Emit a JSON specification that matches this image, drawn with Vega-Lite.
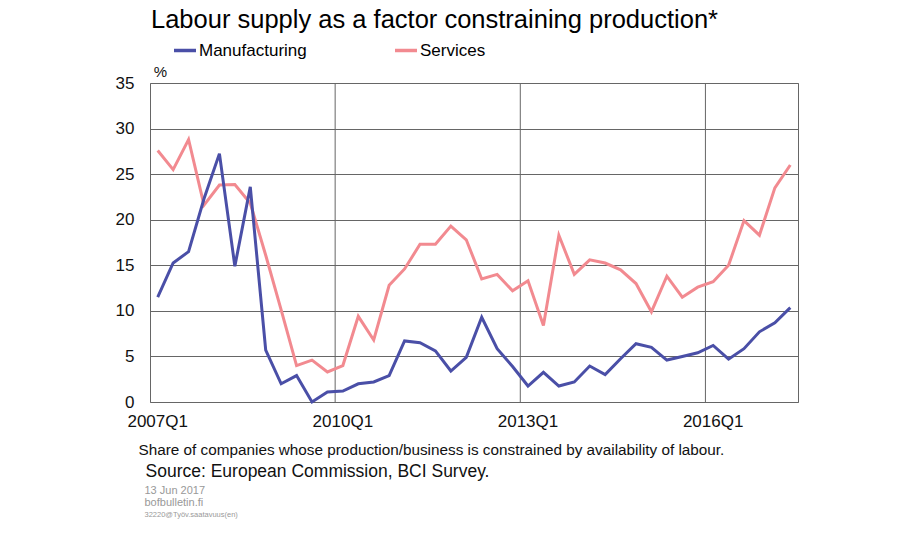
{
  "$schema": "https://vega.github.io/schema/vega-lite/v6.json",
  "width": 648,
  "height": 319,
  "autosize": {"type": "none"},
  "padding": {"left": 150, "top": 83, "right": 102, "bottom": 138},
  "background": "white",
  "config": {
    "font": "Liberation Sans",
    "view": {"stroke": "#666", "strokeWidth": 1}
  },
  "title": {
    "text": "Labour supply as a factor constraining production*",
    "fontSize": 25.5,
    "fontWeight": "normal",
    "color": "#000",
    "anchor": "start",
    "frame": "group",
    "offset": 4.5,
    "dx": 1
  },
  "data": {
    "values": [
      {"q": "2007Q1", "series": "Manufacturing", "v": 11.5}, {"q": "2007Q1", "series": "Services", "v": 27.6},
      {"q": "2007Q2", "series": "Manufacturing", "v": 15.25}, {"q": "2007Q2", "series": "Services", "v": 25.5},
      {"q": "2007Q3", "series": "Manufacturing", "v": 16.5}, {"q": "2007Q3", "series": "Services", "v": 28.8},
      {"q": "2007Q4", "series": "Manufacturing", "v": 22.3}, {"q": "2007Q4", "series": "Services", "v": 21.6},
      {"q": "2008Q1", "series": "Manufacturing", "v": 27.25}, {"q": "2008Q1", "series": "Services", "v": 23.8},
      {"q": "2008Q2", "series": "Manufacturing", "v": 14.9}, {"q": "2008Q2", "series": "Services", "v": 23.85},
      {"q": "2008Q3", "series": "Manufacturing", "v": 23.6}, {"q": "2008Q3", "series": "Services", "v": 21.8},
      {"q": "2008Q4", "series": "Manufacturing", "v": 5.7}, {"q": "2008Q4", "series": "Services", "v": 16.1},
      {"q": "2009Q1", "series": "Manufacturing", "v": 2.0}, {"q": "2009Q1", "series": "Services", "v": 10.1},
      {"q": "2009Q2", "series": "Manufacturing", "v": 2.9}, {"q": "2009Q2", "series": "Services", "v": 4.0},
      {"q": "2009Q3", "series": "Manufacturing", "v": 0.0}, {"q": "2009Q3", "series": "Services", "v": 4.6},
      {"q": "2009Q4", "series": "Manufacturing", "v": 1.1}, {"q": "2009Q4", "series": "Services", "v": 3.3},
      {"q": "2010Q1", "series": "Manufacturing", "v": 1.2}, {"q": "2010Q1", "series": "Services", "v": 4.0},
      {"q": "2010Q2", "series": "Manufacturing", "v": 2.0}, {"q": "2010Q2", "series": "Services", "v": 9.4},
      {"q": "2010Q3", "series": "Manufacturing", "v": 2.2}, {"q": "2010Q3", "series": "Services", "v": 6.8},
      {"q": "2010Q4", "series": "Manufacturing", "v": 2.9}, {"q": "2010Q4", "series": "Services", "v": 12.8},
      {"q": "2011Q1", "series": "Manufacturing", "v": 6.7}, {"q": "2011Q1", "series": "Services", "v": 14.6},
      {"q": "2011Q2", "series": "Manufacturing", "v": 6.5}, {"q": "2011Q2", "series": "Services", "v": 17.3},
      {"q": "2011Q3", "series": "Manufacturing", "v": 5.6}, {"q": "2011Q3", "series": "Services", "v": 17.3},
      {"q": "2011Q4", "series": "Manufacturing", "v": 3.4}, {"q": "2011Q4", "series": "Services", "v": 19.3},
      {"q": "2012Q1", "series": "Manufacturing", "v": 4.9}, {"q": "2012Q1", "series": "Services", "v": 17.8},
      {"q": "2012Q2", "series": "Manufacturing", "v": 9.3}, {"q": "2012Q2", "series": "Services", "v": 13.5},
      {"q": "2012Q3", "series": "Manufacturing", "v": 5.85}, {"q": "2012Q3", "series": "Services", "v": 14.0},
      {"q": "2012Q4", "series": "Manufacturing", "v": 3.9}, {"q": "2012Q4", "series": "Services", "v": 12.2},
      {"q": "2013Q1", "series": "Manufacturing", "v": 1.75}, {"q": "2013Q1", "series": "Services", "v": 13.3},
      {"q": "2013Q2", "series": "Manufacturing", "v": 3.25}, {"q": "2013Q2", "series": "Services", "v": 8.4},
      {"q": "2013Q3", "series": "Manufacturing", "v": 1.75}, {"q": "2013Q3", "series": "Services", "v": 18.3},
      {"q": "2013Q4", "series": "Manufacturing", "v": 2.2}, {"q": "2013Q4", "series": "Services", "v": 14.0},
      {"q": "2014Q1", "series": "Manufacturing", "v": 3.95}, {"q": "2014Q1", "series": "Services", "v": 15.6},
      {"q": "2014Q2", "series": "Manufacturing", "v": 3.0}, {"q": "2014Q2", "series": "Services", "v": 15.25},
      {"q": "2014Q3", "series": "Manufacturing", "v": 4.75}, {"q": "2014Q3", "series": "Services", "v": 14.5},
      {"q": "2014Q4", "series": "Manufacturing", "v": 6.4}, {"q": "2014Q4", "series": "Services", "v": 13.0},
      {"q": "2015Q1", "series": "Manufacturing", "v": 6.0}, {"q": "2015Q1", "series": "Services", "v": 9.9},
      {"q": "2015Q2", "series": "Manufacturing", "v": 4.6}, {"q": "2015Q2", "series": "Services", "v": 13.8},
      {"q": "2015Q3", "series": "Manufacturing", "v": 5.0}, {"q": "2015Q3", "series": "Services", "v": 11.5},
      {"q": "2015Q4", "series": "Manufacturing", "v": 5.4}, {"q": "2015Q4", "series": "Services", "v": 12.6},
      {"q": "2016Q1", "series": "Manufacturing", "v": 6.2}, {"q": "2016Q1", "series": "Services", "v": 13.2},
      {"q": "2016Q2", "series": "Manufacturing", "v": 4.7}, {"q": "2016Q2", "series": "Services", "v": 15.0},
      {"q": "2016Q3", "series": "Manufacturing", "v": 5.85}, {"q": "2016Q3", "series": "Services", "v": 19.9},
      {"q": "2016Q4", "series": "Manufacturing", "v": 7.7}, {"q": "2016Q4", "series": "Services", "v": 18.3},
      {"q": "2017Q1", "series": "Manufacturing", "v": 8.7}, {"q": "2017Q1", "series": "Services", "v": 23.5},
      {"q": "2017Q2", "series": "Manufacturing", "v": 10.35}, {"q": "2017Q2", "series": "Services", "v": 26.0}
    ]
  },
  "resolve": {"axis": {"x": "independent"}},
  "layer": [
    {
      "transform": [
        {"filter": "datum.series === 'Manufacturing'"},
        {"filter": {"field": "q", "oneOf": ["2010Q1"]}}
      ],
      "mark": {"type": "rule", "color": "#666", "strokeWidth": 1},
      "encoding": {
        "x": {
          "field": "q",
          "type": "ordinal",
          "bandPosition": 0,
          "scale": {"type": "band", "paddingInner": 0, "paddingOuter": 0},
          "axis": {
            "orient": "bottom",
            "values": ["2007Q1", "2010Q1", "2013Q1", "2016Q1"],
            "labelAngle": 0,
            "labelFontSize": 17,
            "labelColor": "#111",
            "labelPadding": 11,
            "ticks": false,
            "domain": false,
            "grid": false,
            "title": "Share of companies whose production/business is constrained by availability of labour.",
            "titleFontSize": 15.3,
            "titleFontWeight": "normal",
            "titleColor": "#111",
            "titleAnchor": "start",
            "titleAlign": "left",
            "titleBaseline": "alphabetic",
            "titleX": -12,
            "titleY": 52
          }
        }
      }
    },
    {
      "transform": [
        {"filter": "datum.series === 'Manufacturing'"},
        {"filter": {"field": "q", "oneOf": ["2013Q1", "2016Q1"]}}
      ],
      "mark": {"type": "rule", "color": "#666", "strokeWidth": 1},
      "encoding": {
        "x": {
          "field": "q",
          "type": "ordinal",
          "bandPosition": 0,
          "axis": {
            "orient": "bottom",
            "labels": false,
            "ticks": false,
            "domain": false,
            "grid": false,
            "title": "32220@Työv.saatavuus(en)",
            "titleFontSize": 7.5,
            "titleFontWeight": "normal",
            "titleColor": "#999",
            "titleAnchor": "start",
            "titleAlign": "left",
            "titleBaseline": "alphabetic",
            "titleX": -6,
            "titleY": 114
          }
        }
      }
    },
    {
      "transform": [{"filter": "datum.series === 'Services'"}],
      "mark": {"type": "line", "strokeWidth": 3},
      "encoding": {
        "x": {
          "field": "q",
          "type": "ordinal",
          "axis": {
            "orient": "bottom",
            "labels": false,
            "ticks": false,
            "domain": false,
            "grid": false,
            "title": "Source: European Commission, BCI Survey.",
            "titleFontSize": 17.5,
            "titleFontWeight": "normal",
            "titleColor": "#111",
            "titleAnchor": "start",
            "titleAlign": "left",
            "titleBaseline": "alphabetic",
            "titleX": -5,
            "titleY": 74
          }
        },
        "y": {
          "field": "v",
          "type": "quantitative",
          "scale": {"domain": [0, 35], "nice": false},
          "axis": {
            "values": [0, 5, 10, 15, 20, 25, 30, 35],
            "grid": true,
            "gridColor": "#666",
            "gridOpacity": 1,
            "domain": false,
            "ticks": false,
            "labelFontSize": 17,
            "labelColor": "#111",
            "labelPadding": 16,
            "title": "%",
            "titleAngle": 0,
            "titleX": 10,
            "titleY": -12,
            "titleAlign": "center",
            "titleBaseline": "middle",
            "titleFontSize": 15,
            "titleFontWeight": "normal",
            "titleColor": "#111"
          }
        },
        "color": {
          "field": "series",
          "type": "nominal",
          "scale": {"domain": ["Manufacturing", "Services"], "range": ["#4a4fa7", "#f28a90"]},
          "legend": {
            "orient": "none",
            "legendX": 22,
            "legendY": -45.5,
            "direction": "horizontal",
            "title": null,
            "padding": 0,
            "symbolType": "stroke",
            "symbolSize": 484,
            "symbolStrokeWidth": 3.5,
            "labelFontSize": 17,
            "labelColor": "#000",
            "labelOffset": 1,
            "columnPadding": 81
          }
        }
      }
    },
    {
      "transform": [{"filter": "datum.series === 'Manufacturing'"}],
      "mark": {"type": "line", "strokeWidth": 3},
      "encoding": {
        "x": {
          "field": "q",
          "type": "ordinal",
          "axis": {
            "orient": "bottom",
            "labels": false,
            "ticks": false,
            "domain": false,
            "grid": false,
            "title": ["13 Jun 2017", "bofbulletin.fi"],
            "titleFontSize": 11,
            "titleLineHeight": 12,
            "titleFontWeight": "normal",
            "titleColor": "#999",
            "titleAnchor": "start",
            "titleAlign": "left",
            "titleBaseline": "alphabetic",
            "titleX": -6,
            "titleY": 91
          }
        },
        "y": {"field": "v", "type": "quantitative"},
        "color": {"field": "series", "type": "nominal"}
      }
    }
  ]
}
